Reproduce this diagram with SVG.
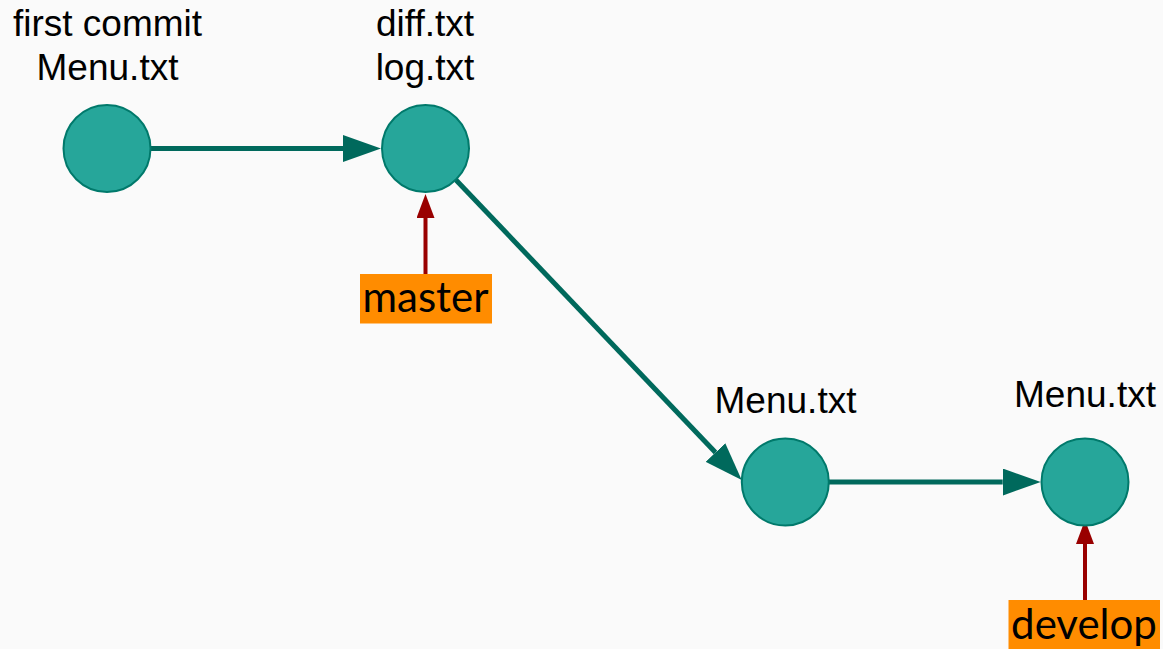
<svg xmlns="http://www.w3.org/2000/svg" width="1163" height="649" viewBox="0 0 1163 649">
<defs>
<style>
.commit{fill:#26A69A;stroke:#00796B;stroke-width:2}
.lbl{font-family:"Liberation Sans",Arial,sans-serif;font-size:37px;fill:#000;text-anchor:middle}
.edge{stroke:#00695C;stroke-width:5;fill:none}
.ref{stroke:#990000;stroke-width:4;fill:none}
.tagbg{fill:#FF8C00}
.tag{font-family:Lato,"DejaVu Sans",sans-serif;font-size:42px;fill:#000;text-anchor:middle}
</style>
<marker id="ah" markerUnits="userSpaceOnUse" viewBox="0 0 38 27" markerWidth="38" markerHeight="27" refX="0" refY="13.5" orient="auto">
<path d="M0,0 L38,13.5 L0,27 z" fill="#00695C"/>
</marker>
<marker id="rh" markerUnits="userSpaceOnUse" viewBox="0 0 24 18" markerWidth="24" markerHeight="18" refX="0" refY="9" orient="auto">
<path d="M0,0 L24,9 L0,18 z" fill="#990000"/>
</marker>
</defs>
<rect width="1163" height="649" fill="#FAFAFA"/>
<g id="connectors">
<line class="edge" x1="150.7" y1="148.5" x2="343" y2="148.5" marker-end="url(#ah)"/>
<line class="edge" x1="456" y1="180" x2="715.5" y2="452.5" marker-end="url(#ah)"/>
<line class="edge" x1="829" y1="482" x2="1002.7" y2="482" marker-end="url(#ah)"/>
<line class="ref" x1="425.5" y1="279" x2="425.5" y2="218" marker-end="url(#rh)"/>
<line class="ref" x1="1085" y1="606" x2="1085" y2="544" marker-end="url(#rh)"/>
</g>
<g id="c1">
<circle class="commit" cx="107" cy="148.5" r="43.5"/>
<text class="lbl" x="107.5" y="36">first commit</text>
<text class="lbl" x="107.5" y="80">Menu.txt</text>
</g>
<g id="c2">
<circle class="commit" cx="425.5" cy="148.5" r="43.5"/>
<text class="lbl" x="425" y="36">diff.txt</text>
<text class="lbl" x="425" y="80">log.txt</text>
</g>
<g id="c3">
<circle class="commit" cx="785.3" cy="482" r="43.5"/>
<text class="lbl" x="785.5" y="413">Menu.txt</text>
</g>
<g id="c4">
<circle class="commit" cx="1085" cy="482" r="43.5"/>
<text class="lbl" x="1085" y="407">Menu.txt</text>
</g>
<g id="master">
<rect class="tagbg" x="360" y="274" width="132" height="49.5"/>
<text class="tag" x="425.5" y="312">master</text>
</g>
<g id="develop">
<rect class="tagbg" x="1008.5" y="600" width="151.5" height="49"/>
<text class="tag" x="1084" y="639">develop</text>
</g>
</svg>
